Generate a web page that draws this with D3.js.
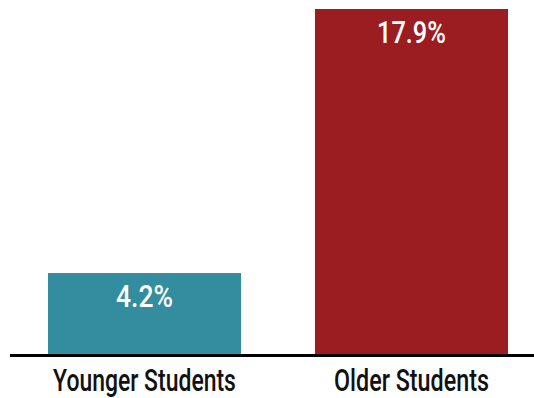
<!DOCTYPE html>
<html><head><meta charset="utf-8">
<script src="https://cdn.jsdelivr.net/npm/d3@7"></script>
<style>body{margin:0;background:#fff}svg{display:block}</style>
</head><body>
<script>
const categories = ["Younger Students", "Older Students"];
const values = [4.2, 17.9];
const colors = ["#348d9e", "#9b1d21"];
const W = 534, H = 398;
const svg = d3.select("body").append("svg").attr("width", W).attr("height", H);
const base = 354;
const x = d3.scaleBand().domain(categories).range([11, 545]).paddingInner(0.277).paddingOuter(0.1386);
const y = d3.scaleLinear().domain([0, 17.9]).range([base, 9]);
const font = "Roboto, 'DejaVu Sans', sans-serif";
const valW = {"Younger Students": 57, "Older Students": 69};
const catW = {"Younger Students": 183, "Older Students": 155};

// squeeze a text horizontally around (cx, by) to a target width
function squeeze(sel, cxf, byf, wf) {
  sel.each(function(d, i) {
    const t = d3.select(this);
    const nat = this.getComputedTextLength();
    const sx = wf(d, i) / nat;
    t.attr("x", 0).attr("y", 0)
     .attr("transform", `translate(${cxf(d, i)},${byf(d, i)}) scale(${sx},1)`);
  });
}

svg.selectAll("rect.bar").data(categories).join("rect")
  .attr("x", d => x(d)).attr("width", x.bandwidth())
  .attr("y", (d,i) => y(values[i])).attr("height", (d,i) => base - y(values[i]))
  .attr("fill", (d,i) => colors[i]);
svg.selectAll("text.val").data(categories).join("text")
  .attr("text-anchor", "middle").attr("fill", "#fff")
  .style("font-family", font).style("font-size", "31px").style("font-weight", 500)
  .text((d,i) => values[i].toFixed(1) + "%")
  .call(squeeze, d => x(d) + x.bandwidth()/2, (d,i) => y(values[i]) + 33.5, d => valW[d]);
svg.append("line").attr("x1", 10).attr("x2", W).attr("y1", base+1.5).attr("y2", base+1.5)
  .attr("stroke", "#000").attr("stroke-width", 3);
const xa = svg.append("g").attr("transform", `translate(0,${base})`)
  .call(d3.axisBottom(x).tickSize(0).tickPadding(0));
xa.select(".domain").remove();
xa.selectAll(".tick").attr("transform", null);
xa.selectAll("text").attr("dy", null).attr("fill", "#111")
  .style("font-family", font).style("font-size", "31px").style("font-weight", 500)
  .call(squeeze, d => x(d) + x.bandwidth()/2, () => 37, d => catW[d]);
</script>
</body></html>
